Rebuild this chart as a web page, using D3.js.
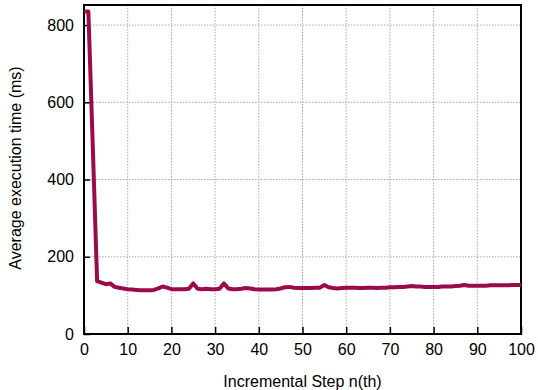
<!DOCTYPE html>
<html>
<head>
<meta charset="utf-8">
<script src="https://cdn.jsdelivr.net/npm/d3@7"></script>
<style>
  body { margin: 0; background: #fff; }
  svg text { font-family: "Liberation Sans", Arial, sans-serif; }
</style>
</head>
<body>
<section></section>
<script>
// Data: steps 0..100, average time in ms
var steps = d3.range(0, 101);
var avgTime = [
  835, 835, 490, 137, 133, 129, 131, 122, 120, 118,
  116, 115, 114, 113, 113, 113, 114, 118, 123, 120,
  116, 116, 116, 116, 117, 131, 117, 116, 117, 116,
  116, 117, 131, 118, 116, 116, 117, 119, 118, 116,
  115, 115, 115, 115, 116, 118, 121, 122, 120, 119,
  119, 119, 119, 120, 120, 127, 121, 119, 118, 119,
  120, 120, 120, 119, 119, 120, 120, 119, 120, 120,
  121, 121, 122, 122, 123, 124, 123, 123, 122, 122,
  122, 122, 123, 123, 123, 124, 125, 127, 125, 125,
  125, 125, 125, 126, 126, 126, 126, 126, 127, 127, 127
];
var xTicks = [0, 10, 20, 30, 40, 50, 60, 70, 80, 90, 100];
var yTicks = [0, 200, 400, 600, 800];
var xLabel = "Incremental Step n(th)";
var yLabel = "Average execution time (ms)";

var data = steps.map(function (s, i) { return { step: s, ms: avgTime[i] }; });

// Setup size.
var margin = { top: 5, right: 17, bottom: 56, left: 84 };
var width = 538 - margin.left - margin.right;
var height = 390 - margin.top - margin.bottom;

var xScale = d3.scaleLinear().domain([0, 100]).range([0, width]);
var yScale = d3.scaleLinear().domain([0, 852]).range([height, 0]);

var svg = d3.select("section")
  .append("svg")
  .attr("width", 538)
  .attr("height", 390)
  .append("g")
  .attr("transform", "translate(" + margin.left + "," + margin.top + ")");

// Grid lines (dotted grey)
svg.append("g")
  .selectAll("line")
  .data(xTicks.filter(function (t) { return t > 0 && t < 100; }))
  .enter().append("line")
  .attr("x1", function (d) { return xScale(d); })
  .attr("x2", function (d) { return xScale(d); })
  .attr("y1", 0).attr("y2", height)
  .attr("stroke", "#aaa")
  .attr("stroke-width", 1)
  .attr("stroke-dasharray", "1.5,1.5");

svg.append("g")
  .selectAll("line")
  .data(yTicks.filter(function (t) { return t > 0; }))
  .enter().append("line")
  .attr("y1", function (d) { return yScale(d); })
  .attr("y2", function (d) { return yScale(d); })
  .attr("x1", 0).attr("x2", width)
  .attr("stroke", "#aaa")
  .attr("stroke-width", 1)
  .attr("stroke-dasharray", "1.5,1.5");

// Axes, ticks pointing inward
var xAxis = d3.axisBottom(xScale).tickValues(xTicks).tickSize(-7).tickPadding(10);
var yAxis = d3.axisLeft(yScale).tickValues(yTicks).tickSize(-6).tickPadding(10);

var gx = svg.append("g")
  .attr("transform", "translate(0," + height + ")")
  .call(xAxis);
var gy = svg.append("g").call(yAxis);

[gx, gy].forEach(function (g) {
  g.select(".domain").remove();
  g.selectAll(".tick line").attr("stroke", "#000").attr("stroke-width", 1.5);
  g.selectAll(".tick text").attr("fill", "#000").style("font-size", "16px");
});

// Frame
svg.append("rect")
  .attr("x", 0).attr("y", 0)
  .attr("width", width).attr("height", height)
  .attr("fill", "none")
  .attr("stroke", "#000")
  .attr("stroke-width", 2);

// Data line
var line = d3.line()
  .x(function (d) { return xScale(d.step); })
  .y(function (d) { return yScale(d.ms); });

svg.append("path")
  .datum(data)
  .attr("d", line)
  .attr("fill", "none")
  .attr("stroke", "#9b0a4b")
  .attr("stroke-width", 4)
  .attr("stroke-linejoin", "round");

// Labels
svg.append("text")
  .attr("x", width / 2)
  .attr("y", height + 53)
  .attr("text-anchor", "middle")
  .style("font-size", "16px")
  .text(xLabel);

svg.append("text")
  .attr("transform", "rotate(-90)")
  .attr("x", -163)
  .attr("y", -63)
  .attr("text-anchor", "middle")
  .style("font-size", "16px")
  .text(yLabel);
</script>
</body>
</html>
